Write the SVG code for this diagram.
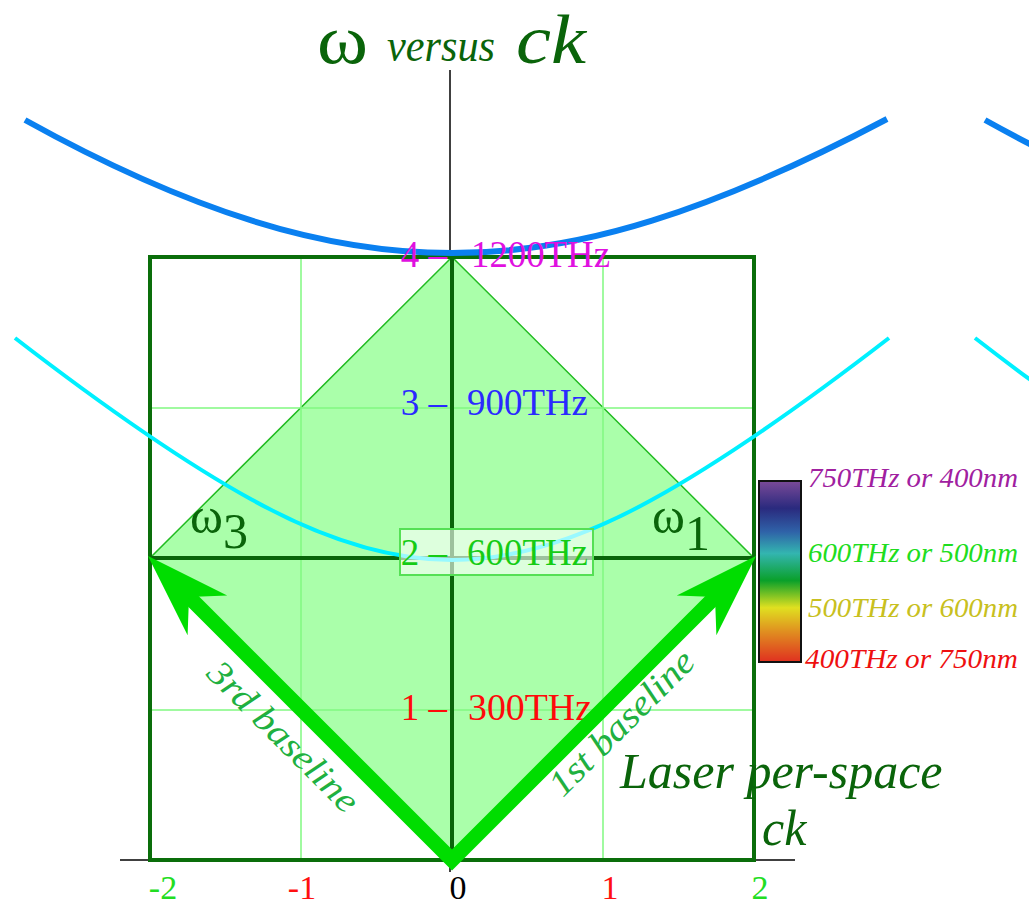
<svg xmlns="http://www.w3.org/2000/svg" width="1029" height="909" viewBox="0 0 1029 909">
<style>
text{font-family:"Liberation Serif","Times New Roman",serif}
.it{font-style:italic}
.dg{fill:#0a640a}
.grid{stroke:#80f880;stroke-width:1.5;fill:none}
.lbl{font-size:37px}
.tick{font-size:34px;text-anchor:middle}
.cb{font-size:27px;font-style:italic}
</style>
<defs>
<linearGradient id="spec" x1="0" y1="0" x2="0" y2="1">
<stop offset="0" stop-color="#7b4a98"/>
<stop offset="0.15" stop-color="#2a2a7e"/>
<stop offset="0.28" stop-color="#2f62a8"/>
<stop offset="0.40" stop-color="#33b5b0"/>
<stop offset="0.55" stop-color="#0aa02a"/>
<stop offset="0.70" stop-color="#e0e020"/>
<stop offset="0.83" stop-color="#e09020"/>
<stop offset="1" stop-color="#e03020"/>
</linearGradient>
</defs>
<rect width="1029" height="909" fill="#ffffff"/>
<g id="axes">
<line x1="450" y1="70" x2="450" y2="872" stroke="#000" stroke-width="1.5"/>
<line x1="120" y1="860" x2="795" y2="860" stroke="#000" stroke-width="1.5"/>
</g>
<g id="diamond">
<polygon points="452,257 754,558 452,860 150,558" fill="#aaffaa" stroke="#22bb22" stroke-width="1.5"/>
</g>
<g id="grid">
<line class="grid" x1="301" y1="257" x2="301" y2="860"/>
<line class="grid" x1="603" y1="257" x2="603" y2="860"/>
<line class="grid" x1="150" y1="408" x2="754" y2="408"/>
<line class="grid" x1="150" y1="710" x2="754" y2="710"/>
<line x1="452" y1="257" x2="452" y2="860" stroke="#0a640a" stroke-width="4"/>
<line x1="150" y1="558" x2="754" y2="558" stroke="#0a640a" stroke-width="4"/>
<rect x="150" y="257" width="604" height="603" fill="none" stroke="#0a6e0a" stroke-width="4"/>
</g>
<g id="curves" fill="none">
<path d="M25,120 Q146.9,187.7 252,220.7 Q354.8,253 452,253 Q549.2,253 652,220.7 Q757.1,187.7 887,119" stroke="#0a80f0" stroke-width="6"/>
<path d="M985,120 Q1106.9,187.7 1212,220.7 Q1314.8,253 1412,253" stroke="#0a80f0" stroke-width="6"/>
<path d="M15,338 Q156,446.8 252,499.8 Q361,560 452,560 Q543,560 652,499.8 Q748,446.8 889,338" stroke="#00f0ff" stroke-width="4"/>
<path d="M975,338 Q1116,446.8 1212,499.8 Q1321,560 1412,560" stroke="#00f0ff" stroke-width="4"/>
</g>
<g id="freq-labels">
<text class="lbl" x="447" y="267" text-anchor="end" fill="#e010e0">4 –</text>
<text class="lbl" x="471" y="267" fill="#e010e0" textLength="139" lengthAdjust="spacingAndGlyphs">1200THz</text>
<text class="lbl" x="447" y="415" text-anchor="end" fill="#2a2aff">3 –</text>
<text class="lbl" x="467" y="415" fill="#2a2aff" textLength="121" lengthAdjust="spacingAndGlyphs">900THz</text>
<rect x="400" y="529" width="193" height="46" fill="#ffffff" fill-opacity="0.6" stroke="#55e055" stroke-width="2"/>
<text class="lbl" x="447" y="565" text-anchor="end" fill="#15cc15">2 –</text>
<text class="lbl" x="467" y="565" fill="#15cc15" textLength="121" lengthAdjust="spacingAndGlyphs">600THz</text>
<text class="lbl" x="447" y="720" text-anchor="end" fill="#ff0a0a">1 –</text>
<text class="lbl" x="468" y="720" fill="#ff0a0a" textLength="124" lengthAdjust="spacingAndGlyphs">300THz</text>
</g>
<g id="arrows" fill="#00dd00">
<path d="M716,596 L452,860 L188,596" fill="none" stroke="#00dd00" stroke-width="15" stroke-linejoin="miter" stroke-miterlimit="4"/>
<polygon points="756,556 676.8,595.6 715,597 716.4,635.2"/>
<polygon points="148,556 227.2,595.6 189,597 187.6,635.2"/>
</g>
<g id="baseline-labels">
<text class="it" transform="translate(275,745) rotate(45)" text-anchor="middle" font-size="36" fill="#20b040" textLength="198" lengthAdjust="spacingAndGlyphs">3rd baseline</text>
<text class="it" transform="translate(630,731) rotate(-45)" text-anchor="middle" font-size="36" fill="#20b040" textLength="190" lengthAdjust="spacingAndGlyphs">1st baseline</text>
</g>
<g id="omega-labels" class="dg">
<text x="190" y="533" font-size="50">ω<tspan dy="15">3</tspan></text>
<text x="652" y="533" font-size="50">ω<tspan dy="17">1</tspan></text>
</g>
<g id="title" class="dg">
<text x="317" y="63" font-size="70" textLength="51" lengthAdjust="spacingAndGlyphs">ω</text>
<text class="it" x="387" y="61" font-size="46" textLength="108" lengthAdjust="spacingAndGlyphs">versus</text>
<text class="it" x="516" y="63" font-size="70" textLength="70" lengthAdjust="spacingAndGlyphs">ck</text>
</g>
<g id="laser-label" class="dg">
<text class="it" x="620" y="788" font-size="50">Laser per-space</text>
<text class="it" x="762" y="845" font-size="50">ck</text>
</g>
<g id="colorbar">
<rect x="759" y="481" width="42" height="181" fill="url(#spec)" stroke="#111" stroke-width="2"/>
<text class="cb" x="808" y="487" fill="#a020a0" textLength="210" lengthAdjust="spacingAndGlyphs">750THz or 400nm</text>
<text class="cb" x="808" y="562" fill="#20dd20" textLength="210" lengthAdjust="spacingAndGlyphs">600THz or 500nm</text>
<text class="cb" x="808" y="617" fill="#c8c020" textLength="210" lengthAdjust="spacingAndGlyphs">500THz or 600nm</text>
<text class="cb" x="805" y="668" fill="#ee1010" textLength="213" lengthAdjust="spacingAndGlyphs">400THz or 750nm</text>
</g>
<g id="ticks">
<text class="tick" x="163" y="899" fill="#22dd22">-2</text>
<text class="tick" x="302" y="899" fill="#ff1010">-1</text>
<text class="tick" x="458" y="899" fill="#000">0</text>
<text class="tick" x="610" y="899" fill="#ff1010">1</text>
<text class="tick" x="760" y="899" fill="#22dd22">2</text>
</g>
</svg>
